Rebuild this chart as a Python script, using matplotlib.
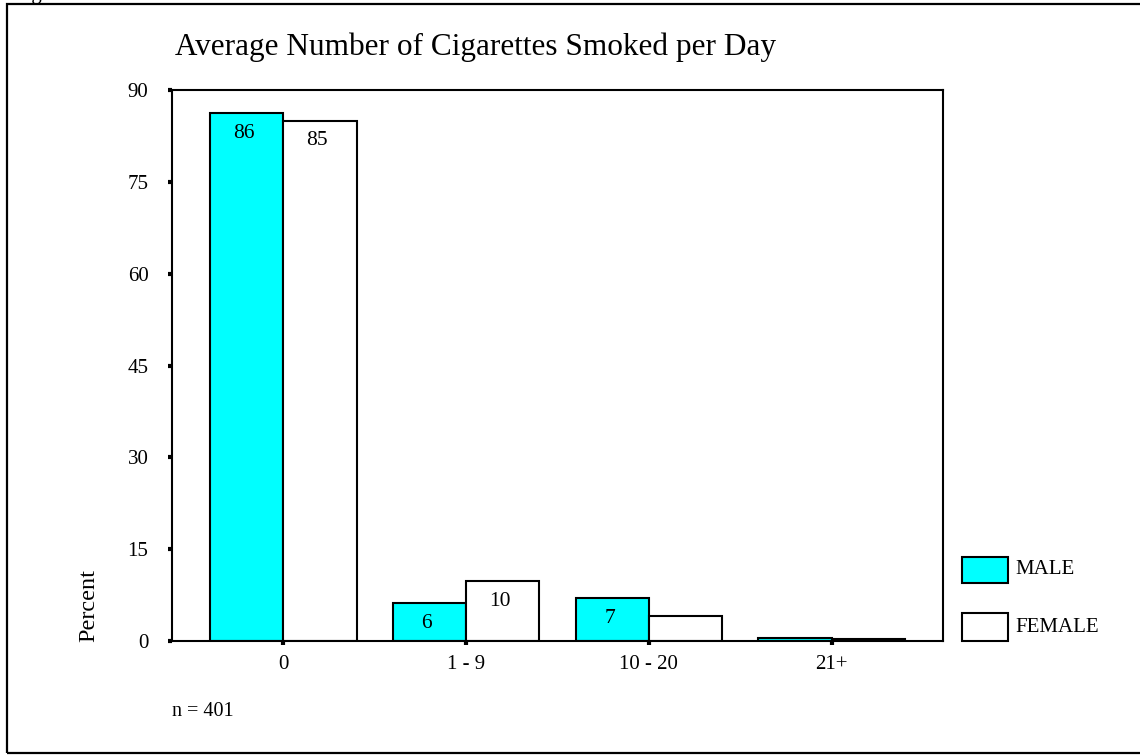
import matplotlib
matplotlib.use("Agg")
import matplotlib.pyplot as plt
from matplotlib.patches import Rectangle
import numpy as np

plt.rcParams['font.family'] = ['Liberation Serif', 'DejaVu Serif']

# data
categories = ['0', '1 - 9', '10 - 20', '21+']
male = [86.2, 6.2, 7.0, 0.5]
female = [85.0, 9.8, 4.1, 0.3]
male_labels = ['86', '6', '7', None]
female_labels = ['85', '10', None, None]
yticks = [0, 15, 30, 45, 60, 75, 90]

W, H = 1140, 755
fig = plt.figure(figsize=(W / 100, H / 100), dpi=100)

# outer frame
fig.add_artist(Rectangle((7 / W, 1 - 753 / H), 1.2, (753 - 4) / H,
                         transform=fig.transFigure, fill=False,
                         edgecolor='black', linewidth=1.6))
fig.text(14 / W, 1 + 1 / H, 'Figure', fontsize=15, va='baseline', ha='left')

ax = fig.add_axes([172 / W, 1 - 641 / H, (943 - 172) / W, (641 - 90) / H])

x = np.arange(len(categories))
bw = 0.40
b1 = ax.bar(x - bw / 2, male, bw, color='#00ffff', edgecolor='black', linewidth=1.5)
b2 = ax.bar(x + bw / 2, female, bw, color='white', edgecolor='black', linewidth=1.5)

# value labels just inside the top of each bar
for bars, labels in ((b1, male_labels), (b2, female_labels)):
    for rect, lab in zip(bars, labels):
        if lab is None:
            continue
        ax.annotate(lab, (rect.get_x() + rect.get_width() / 2, rect.get_height()),
                    xytext=(-2, -14.5), textcoords='offset points',
                    ha='center', va='center', fontsize=15.5)

ax.set_xlim(-0.61, 3.61)
ax.set_ylim(0, 90)
ax.set_xticks(x)
ax.set_xticklabels(categories)
ax.set_yticks(yticks)
for s in ax.spines.values():
    s.set_linewidth(1.5)
ax.tick_params(axis='both', direction='out', length=3, width=3, labelsize=15)
ax.tick_params(axis='y', pad=14)
ax.tick_params(axis='x', pad=7)

fig.text(89 / W, 1 - 642 / H, 'Percent', rotation=90, fontsize=17.5,
         ha='center', va='bottom')
fig.text(175 / W, 1 - 47 / H, 'Average Number of Cigarettes Smoked per Day',
         fontsize=22.5, ha='left', va='center')
fig.text(172 / W, 1 - 712 / H, 'n = 401', fontsize=14.5, ha='left', va='center')

# legend
for (y0, y1), fc, name in (((557, 583), '#00ffff', 'MALE'),
                           ((613, 641), 'white', 'FEMALE')):
    fig.add_artist(Rectangle((962 / W, 1 - y1 / H), 46 / W, (y1 - y0) / H,
                             transform=fig.transFigure, facecolor=fc,
                             edgecolor='black', linewidth=1.5))
    fig.text(1015 / W, 1 - (y0 + y1) / 2 / H, name, fontsize=15,
             ha='left', va='center')

fig.savefig('out.png', dpi=100)
